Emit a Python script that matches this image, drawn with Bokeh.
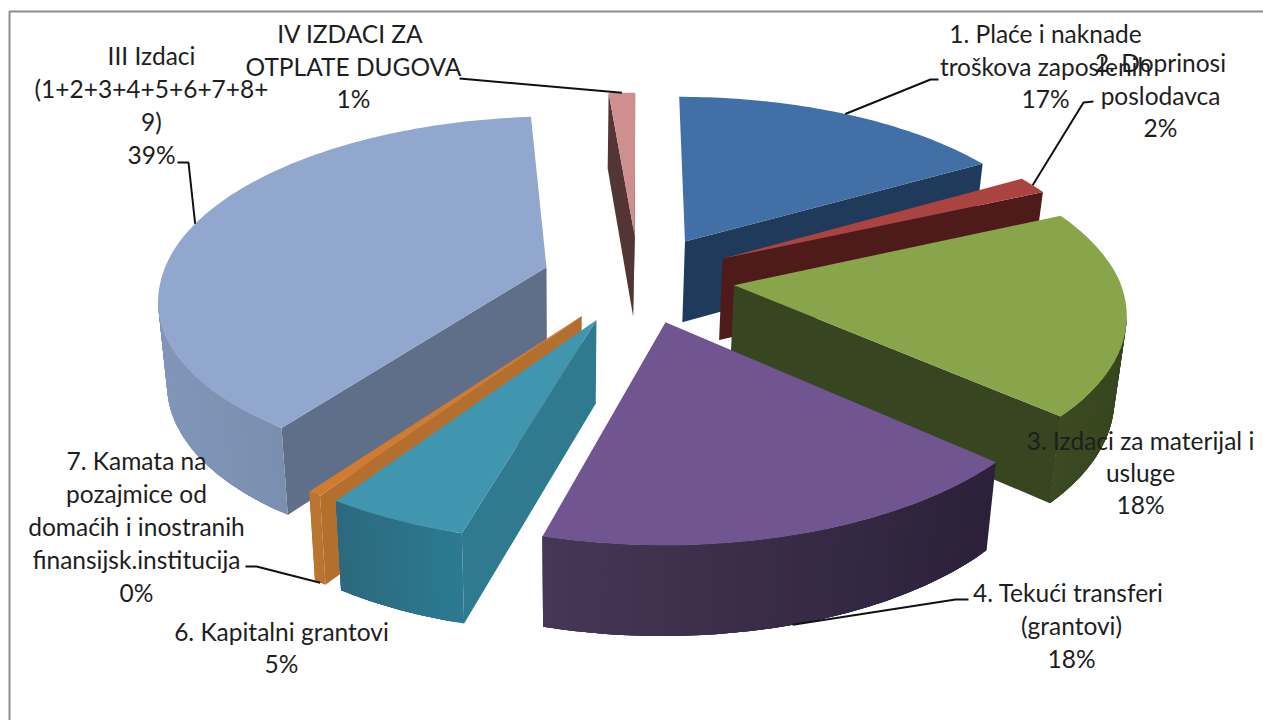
import math
from bokeh.plotting import figure
from bokeh.models import Range1d, ColumnDataSource
from bokeh.core.properties import value
from bokeh.embed import file_html
from bokeh.resources import INLINE

# ---- data -----------------------------------------------------------------
categories = ["1. Plaće i naknade\ntroškova zaposlenih", "2. Doprinosi\nposlodavca",
              "3. Izdaci za materijal i\nusluge", "4.  Tekući transferi\n(grantovi)",
              "6. Kapitalni grantovi", "7. Kamata na\npozajmice od\ndomaćih i inostranih\nfinansijsk.institucija",
              "III Izdaci\n(1+2+3+4+5+6+7+8+\n9)", "IV  IZDACI ZA\nOTPLATE DUGOVA"]
shares = [16.6, 1.6, 18.4, 17.6, 5.0, 0.5, 39.0, 1.3]
percent_labels = ["17%", "2%", "18%", "18%", "5%", "0%", "39%", "1%"]

# ---- styles ----------------------------------------------------------------
top_colors = ["#426FA5", "#AB4340", "#88A54C", "#705590", "#4095AF", "#D07B2F", "#92A7CD", "#CE8F8E"]
wall_colors = ["#1F3A5A", "#4F1B1A", "#374521", "#352843", "#2F7A8F", "#B46F2E", "#5F6F89", "#533535"]
rim_left = ["#1F3A5A", "#4F1B1A", "#3B4A20", "#473757", "#2C687D", "#B87430", "#8196B8", "#533535"]
rim_right = ["#1F3A5A", "#4F1B1A", "#37461F", "#2C2139", "#2B7A90", "#B87430", "#6D80A0", "#533535"]
draw_order = [7, 0, 1, 2, 6, 5, 4, 3]

# ---- layout ----------------------------------------------------------------
label_cx = [1045, 1160, 1140, 1071, 281, 136, 151, 353]
label_y0 = [33, 62, 440, 592, 631, 460, 55, 33]
label_step = [32.5, 32.5, 32, 33, 32, 33, 33, 32.5]
# slice index: (use lower rim?, elbow points)
leaders = {0: (False, [(930, 79), (938, 79)]),
           1: (False, [(1083, 102), (1093, 101)]),
           3: (True, [(955, 599), (968, 599)]),
           5: (True, [(256, 566), (245, 566)]),
           6: (False, [(188, 162), (177, 162)]),
           7: (False, [(459, 78)])}
CX, CY, R, A, P, EXPL, H = 638, 278, 385, 176, 0.147, 0.25, 82
VCX, SHR = 565, 0.978
FRONT_SHEAR = 6


def proj(X, Y):
    s = 1 / (1 + P * Y)
    return CX + R * X * s - FRONT_SHEAR * max(0, -Y), CY - A * Y * s, s


def lower(pt):
    x, y, s = pt
    return VCX + (x - VCX) * SHR, y + H * s ** 0.5


def mix(c1, c2, t):
    a = [int(c1[i:i + 2], 16) for i in (1, 3, 5)]
    b = [int(c2[i:i + 2], 16) for i in (1, 3, 5)]
    return "#%02x%02x%02x" % tuple(round(u + (v - u) * t) for u, v in zip(a, b))


total = sum(shares)
starts = []
acc = 0
for v in shares:
    starts.append(acc / total * 360)
    acc += v


def slice_point(i, ang):
    mid = math.radians(starts[i] + shares[i] / total * 180)
    a = math.radians(ang)
    return proj(math.sin(a) + EXPL * math.sin(mid), math.cos(a) + EXPL * math.cos(mid))


def apex(i):
    mid = math.radians(starts[i] + shares[i] / total * 180)
    return proj(EXPL * math.sin(mid), EXPL * math.cos(mid))


xs, ys, fills = [], [], []


def add(poly, color):
    xs.append([q[0] for q in poly])
    ys.append([q[1] for q in poly])
    fills.append(color)


for i in draw_order:
    a0 = starts[i]
    a1 = a0 + shares[i] / total * 360
    n = max(2, int((a1 - a0) / 1.0))
    arc = [slice_point(i, a0 + (a1 - a0) * k / n) for k in range(n + 1)]
    ap = apex(i)
    # radial walls that face the viewer
    if arc[0][0] < ap[0] - 15:
        add([ap[:2], arc[0][:2], lower(arc[0]), lower(ap)], wall_colors[i])
    if ap[0] < arc[-1][0]:
        add([arc[-1][:2], ap[:2], lower(ap), lower(arc[-1])], wall_colors[i])
    # outer rim: overlapping strips, so their shading has no seams
    xvals = [q[0] for q in arc]
    lo, hi = min(xvals), max(xvals)
    vis = [k for k in range(n) if arc[k + 1][0] < arc[k][0]]
    for k in vis:
        t = (arc[k][0] - lo) / max(hi - lo, 1)
        end = vis[min(vis.index(k) + 3, len(vis) - 1)] + 1
        seg = arc[k:end + 1]
        add([q[:2] for q in seg] + [lower(q) for q in reversed(seg)], mix(rim_left[i], rim_right[i], t))
    add([ap[:2]] + [q[:2] for q in arc], top_colors[i])

p = figure(width=1263, height=720, x_range=Range1d(0, 1263), y_range=Range1d(720, 0),
           output_backend="svg", toolbar_location=None, min_border=0)
p.axis.visible = False
p.grid.visible = False
p.outline_line_color = None
p.background_fill_color = "white"

# picture frame
p.line([9, 9, 1263], [720, 11, 11], line_color="#8C8C8C", line_width=2)

p.patches(source=ColumnDataSource(dict(xs=xs, ys=ys, fill=fills)), xs="xs", ys="ys",
          fill_color="fill", line_color=None)

# leader lines, anchored on the rim at each slice's middle angle
for i, (low, elbow) in leaders.items():
    ang = starts[i] + shares[i] / total * 180
    pt = slice_point(i, ang)
    anchor = lower(pt) if low else pt[:2]
    px = [anchor[0]] + [e[0] for e in elbow]
    py = [anchor[1]] + [e[1] for e in elbow]
    p.line(px, py, line_color="#111111", line_width=2)

# labels
tx, ty, tt = [], [], []
for i, cat in enumerate(categories):
    lines = cat.split("\n") + [percent_labels[i]]
    for j, line in enumerate(lines):
        tx.append(label_cx[i])
        ty.append(label_y0[i] + j * label_step[i])
        tt.append(line)
p.text(x=tx, y=ty, text=tt, text_font=value("Lato"), text_font_size="24.5px", text_color="#1E1E1E",
       text_align="center", text_baseline="middle")

open("out.html", "w").write(file_html(p, INLINE))
